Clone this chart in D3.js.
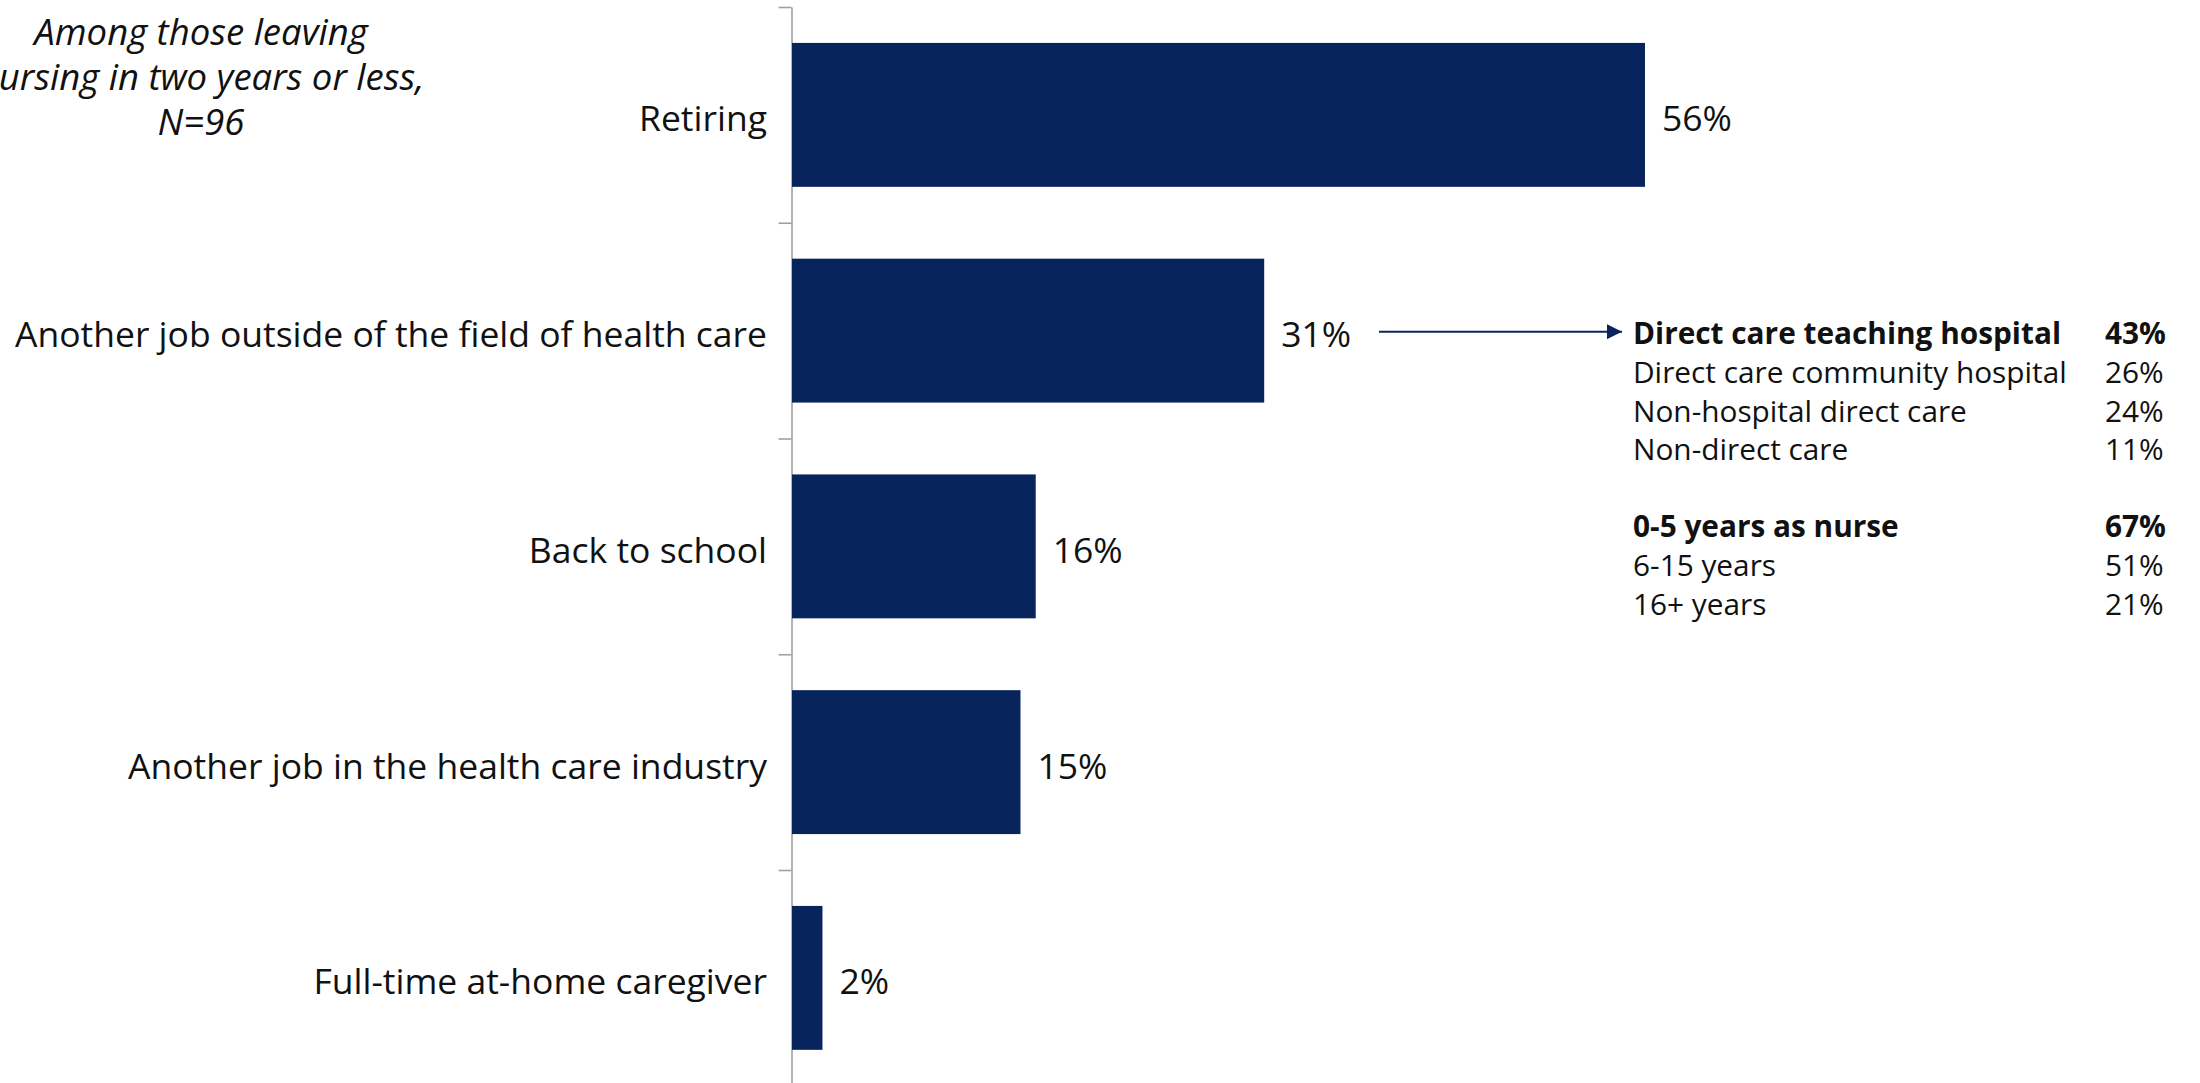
<!DOCTYPE html>
<html>
<head>
<meta charset="utf-8">
<script src="https://cdn.jsdelivr.net/npm/d3@7/dist/d3.min.js"></script>
<style>
  html, body { margin: 0; padding: 0; background: #ffffff; }
  svg { display: block; }
  text { font-family: "Open Sans", "Noto Sans", sans-serif; }
</style>
</head>
<body>
<svg id="chart" width="2200" height="1083"></svg>
<script>
// Reasons for leaving nursing (share of respondents)
const categories = [
  "Retiring",
  "Another job outside of the field of health care",
  "Back to school",
  "Another job in the health care industry",
  "Full-time at-home caregiver"
];
const values = [56, 31, 16, 15, 2];

// Breakdown for "Another job outside of the field of health care"
const settingLabels = ["Direct care teaching hospital", "Direct care community hospital", "Non-hospital direct care", "Non-direct care"];
const settingValues = [43, 26, 24, 11];
const tenureLabels = ["0-5 years as nurse", "6-15 years", "16+ years"];
const tenureValues = [67, 51, 21];

const titleLines = ["Among those leaving", "nursing in two years or less,", "N=96"];

const barColor = "#08245c";
const svg = d3.select("#chart");

const x = d3.scaleLinear().domain([0, 56]).range([792, 1645]);
const y = d3.scaleBand().domain(categories).range([7, 1085.75])
  .paddingInner(0.333).paddingOuter(0.1665);
const yEdge = d3.scaleLinear().domain([0, categories.length]).range([7, 1085.75]);

// Axis with ticks at category boundaries
const axis = svg.append("g")
  .attr("transform", `translate(${x(0) - 0.5},0)`)
  .call(d3.axisLeft(yEdge).tickValues(d3.range(0, categories.length + 1))
    .tickFormat("").tickSize(13).tickSizeOuter(0));
axis.select(".domain").attr("stroke", "#a0a0a0").attr("stroke-width", 1.6);
axis.selectAll(".tick line").attr("stroke", "#a0a0a0").attr("stroke-width", 1.6);

// Bars
svg.append("g").selectAll("rect").data(categories).join("rect")
  .attr("x", x(0))
  .attr("y", d => y(d))
  .attr("width", (d, i) => x(values[i]) - x(0))
  .attr("height", y.bandwidth())
  .attr("fill", barColor);

const labelY = d => y(d) + y.bandwidth() / 2 + 4;

// Category labels
svg.append("g").selectAll("text").data(categories).join("text")
  .attr("x", x(0) - 25)
  .attr("y", labelY)
  .attr("dy", "0.35em")
  .attr("text-anchor", "end")
  .attr("font-size", 35.5)
  .attr("fill", "#111")
  .text(d => d);

// Value labels
svg.append("g").selectAll("text").data(categories).join("text")
  .attr("x", (d, i) => x(values[i]) + 17)
  .attr("y", labelY)
  .attr("dy", "0.35em")
  .attr("font-size", 35.5)
  .attr("fill", "#111")
  .text((d, i) => values[i] + "%");

// Italic subgroup note
svg.append("g").selectAll("text").data(titleLines).join("text")
  .attr("x", 201)
  .attr("y", (d, i) => 45 + i * 45)
  .attr("text-anchor", "middle")
  .attr("font-style", "italic")
  .attr("font-size", 36.5)
  .attr("fill", "#111")
  .text(d => d);

// Arrow from the 31% bar to the breakdown
const defs = svg.append("defs");
defs.append("marker")
  .attr("id", "arrowhead")
  .attr("viewBox", "0 0 10 10")
  .attr("refX", 10).attr("refY", 5)
  .attr("markerWidth", 7.5).attr("markerHeight", 7.5)
  .attr("markerUnits", "strokeWidth")
  .attr("orient", "auto")
  .append("path").attr("d", "M0,0 L10,5 L0,10 Z").attr("fill", barColor);

const arrowY = y(categories[1]) + y.bandwidth() / 2 + 1;
svg.append("line")
  .attr("x1", 1379).attr("x2", 1622)
  .attr("y1", arrowY).attr("y2", arrowY)
  .attr("stroke", barColor).attr("stroke-width", 2)
  .attr("marker-end", "url(#arrowhead)");

// Breakdown table
const rows = [];
settingLabels.forEach((l, i) => rows.push({ label: l, value: settingValues[i], bold: i === 0, slot: i }));
tenureLabels.forEach((l, i) => rows.push({ label: l, value: tenureValues[i], bold: i === 0, slot: i + 5 }));

const table = svg.append("g");
const rowStep = 38.6;
const rowTop = 334;
table.selectAll("text.lbl").data(rows).join("text")
  .attr("class", "lbl")
  .attr("x", 1633)
  .attr("y", d => rowTop + d.slot * rowStep)
  .attr("dy", "0.35em")
  .attr("font-size", 29.8)
  .attr("font-weight", d => d.bold ? 700 : 400)
  .attr("fill", "#111")
  .text(d => d.label);
table.selectAll("text.val").data(rows).join("text")
  .attr("class", "val")
  .attr("x", 2105)
  .attr("y", d => rowTop + d.slot * rowStep)
  .attr("dy", "0.35em")
  .attr("font-size", 29.8)
  .attr("font-weight", d => d.bold ? 700 : 400)
  .attr("fill", "#111")
  .text(d => d.value + "%");
</script>
</body>
</html>
